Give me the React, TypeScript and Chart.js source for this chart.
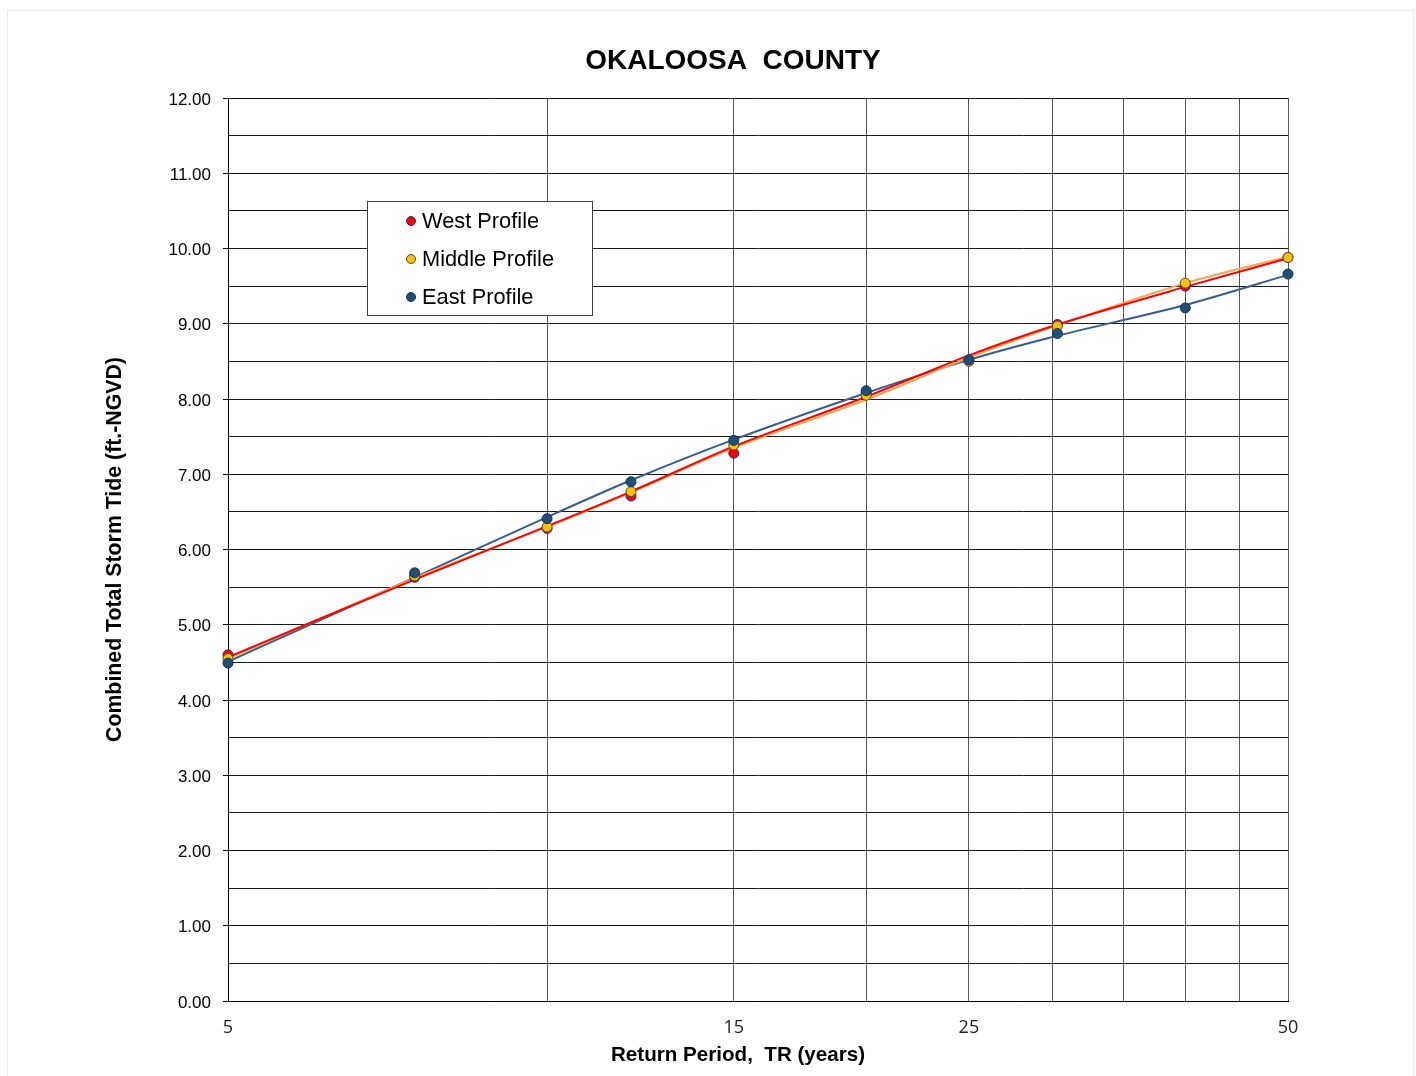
import React, { useEffect, useRef } from 'react';
import { Chart, registerables } from 'chart.js';

Chart.register(...registerables);

// ---- Texts ----
const chartTitle = 'OKALOOSA  COUNTY';
const xAxisTitle = 'Return Period,  TR (years)';
const yAxisTitle = 'Combined Total Storm Tide (ft.-NGVD)';
const seriesNames = ['West Profile', 'Middle Profile', 'East Profile'];

// ---- Data ----
const returnPeriods = [5, 7.5, 10, 12, 15, 20, 25, 30.3, 40, 50];
const westProfile = [4.6, 5.63, 6.28, 6.71, 7.28, 8.08, 8.52, 8.99, 9.5, 9.88];
const middleProfile = [4.55, 5.65, 6.3, 6.77, 7.39, 8.05, 8.5, 8.97, 9.54, 9.88];
const eastProfile = [4.49, 5.69, 6.41, 6.9, 7.45, 8.11, 8.52, 8.87, 9.21, 9.66];
const westTrend = [4.57, 5.6, 6.31, 6.77, 7.37, 8.03, 8.58, 8.99, 9.49, 9.87];
const middleTrend = [4.55, 5.62, 6.3, 6.76, 7.35, 7.99, 8.55, 8.98, 9.54, 9.89];
const eastTrend = [4.51, 5.63, 6.43, 6.92, 7.46, 8.08, 8.52, 8.84, 9.25, 9.65];

// ---- Axes ----
const xGridValues = [5, 10, 15, 20, 25, 30, 35, 40, 45, 50];
const xTickLabels = [5, 15, 25, 50];
const yMin = 0;
const yMax = 12;
const yStep = 0.5;

const toPoints = (ys: number[]) => returnPeriods.map((x, i) => ({ x, y: ys[i] }));

const FONT = '"Liberation Sans", Arial, sans-serif';

const framePlugin = {
  id: 'frame',
  beforeDraw(chart: any) {
    const { ctx, width, height } = chart;
    ctx.save();
    ctx.fillStyle = '#ffffff';
    ctx.fillRect(0, 0, width, height);
    ctx.strokeStyle = '#ececec';
    ctx.lineWidth = 1;
    ctx.strokeRect(7.5, 10.5, 1406, 1070);
    ctx.restore();
  },
};

const extrasPlugin = {
  id: 'extras',
  afterDraw(chart: any) {
    const { ctx, chartArea } = chart;
    ctx.save();
    // x-axis title
    ctx.fillStyle = '#000';
    ctx.font = `bold 20.6px ${FONT}`;
    ctx.textAlign = 'center';
    ctx.textBaseline = 'middle';
    ctx.fillText(xAxisTitle, chartArea.left + 510, chartArea.bottom + 54);

    // legend box
    const bx = chartArea.left + 139;
    const by = chartArea.top + 103;
    const bw = 225;
    const bh = 114;
    ctx.fillStyle = '#ffffff';
    ctx.fillRect(bx, by, bw, bh);
    ctx.strokeStyle = '#404040';
    ctx.lineWidth = 1;
    ctx.strokeRect(bx + 0.5, by + 0.5, bw, bh);
    ctx.font = `21.8px ${FONT}`;
    ctx.textAlign = 'left';
    ctx.textBaseline = 'middle';
    const pointSets = chart.data.datasets.filter((d: any) => d.isSeries);
    pointSets.forEach((ds: any, i: number) => {
      const cy = by + 20 + i * 38;
      ctx.beginPath();
      ctx.arc(bx + 44, cy, 4.5, 0, Math.PI * 2);
      ctx.fillStyle = ds.pointBackgroundColor;
      ctx.fill();
      ctx.strokeStyle = ds.pointBorderColor;
      ctx.lineWidth = 1;
      ctx.stroke();
      ctx.fillStyle = '#000';
      ctx.fillText(ds.label, bx + 55, cy + 1);
    });
    ctx.restore();
  },
};

export default function App() {
  const canvasRef = useRef<HTMLCanvasElement | null>(null);

  useEffect(() => {
    if (!canvasRef.current) return;
    const pointDs = (label: string, ys: number[], fill: string, border: string, order: number) => ({
      label,
      isSeries: true,
      data: toPoints(ys),
      showLine: false,
      pointRadius: 5,
      pointBackgroundColor: fill,
      pointBorderColor: border,
      pointBorderWidth: 1,
      backgroundColor: fill,
      borderColor: border,
      clip: false as any,
      order,
    });
    const trendDs = (label: string, ys: number[], color: string, order: number) => ({
      label,
      isSeries: false,
      data: toPoints(ys),
      showLine: true,
      pointRadius: 0,
      borderColor: color,
      backgroundColor: color,
      borderWidth: 2,
      tension: 0.3,
      clip: false as any,
      order,
    });

    const chart = new Chart(canvasRef.current, {
      type: 'scatter',
      data: {
        datasets: [
          pointDs(seriesNames[0], westProfile, '#ff0000', '#3b2a80', 2),
          pointDs(seriesNames[1], middleProfile, '#ffc000', '#5a4a20', 1),
          pointDs(seriesNames[2], eastProfile, '#1f4e79', '#15365a', 0),
          trendDs('West trend', westTrend, '#ff0000', 3),
          trendDs('Middle trend', middleTrend, '#f5a555', 4),
          trendDs('East trend', eastTrend, '#355d8f', 5),
        ] as any,
      },
      options: {
        responsive: false,
        animation: false,
        devicePixelRatio: 1,
        events: [],
        layout: { padding: { left: 50, right: 0, top: 0, bottom: 0 } },
        plugins: {
          legend: { display: false },
          tooltip: { enabled: false },
          title: {
            display: true,
            text: chartTitle,
            color: '#000',
            font: { family: FONT, size: 28, weight: 'bold' },
            padding: { top: 44.2, bottom: 20.2 },
          },
        },
        scales: {
          x: {
            type: 'logarithmic',
            min: 5,
            max: 50,
            position: 'bottom',
            afterBuildTicks: (scale: any) => {
              scale.ticks = xGridValues.map((v) => ({ value: v }));
            },
            afterFit: (scale: any) => {
              scale.height = 75;
            },
            ticks: {
              autoSkip: false,
              maxRotation: 0,
              padding: 16,
              color: '#222',
              font: { family: '"Open Sans", sans-serif', size: 18 },
              callback: (value: any) => (xTickLabels.includes(Number(value)) ? String(value) : ''),
            },
            grid: { color: '#555', lineWidth: 1, drawTicks: false },
            border: { display: true, color: '#000', width: 1 },
          },
          y: {
            type: 'linear',
            min: yMin,
            max: yMax,
            position: 'left',
            afterFit: (scale: any) => {
              scale.width = 178;
            },
            ticks: {
              stepSize: yStep,
              autoSkip: false,
              padding: 12,
              labelOffset: 2,
              color: '#000',
              font: { family: FONT, size: 17 },
              callback: (value: any) => (Number(value) % 1 === 0 ? Number(value).toFixed(2) : ''),
            },
            grid: {
              color: '#1a1a1a',
              lineWidth: 1,
              drawTicks: true,
              tickLength: 5,
              tickColor: (ctx: any) =>
                ctx.tick && ctx.tick.value % 1 === 0 ? '#000' : 'rgba(0,0,0,0)',
            },
            border: { display: true, color: '#000', width: 1 },
            title: {
              display: true,
              text: yAxisTitle,
              color: '#000',
              font: { family: FONT, size: 21.3, weight: 'bold' },
              padding: { top: 52.2, bottom: 0 },
            },
          },
          yRight: {
            type: 'linear',
            position: 'right',
            display: true,
            min: yMin,
            max: yMax,
            afterFit: (scale: any) => {
              scale.width = 128;
            },
            ticks: { display: false },
            grid: { display: false, drawOnChartArea: false },
            border: { display: false },
          },
        },
      } as any,
      plugins: [framePlugin, extrasPlugin],
    });
    return () => chart.destroy();
  }, []);

  return (
    <div style={{ position: 'absolute', left: 0, top: 0, width: 1416, height: 1076 }}>
      <canvas ref={canvasRef} width={1416} height={1076} />
    </div>
  );
}
